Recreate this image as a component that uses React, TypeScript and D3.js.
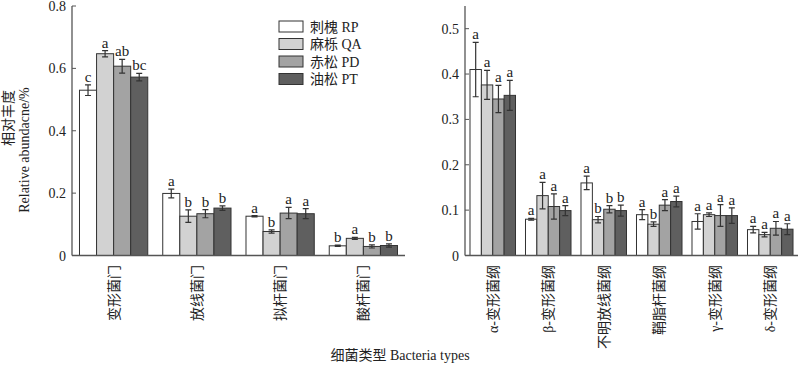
import * as d3 from 'd3'

const series = ['刺槐 RP', '麻栎 QA', '赤松 PD', '油松 PT']
const fills = ['#ffffff', '#d2d2d2', '#a3a3a3', '#5f5f5f']

const phylum = ['变形菌门', '放线菌门', '拟杆菌门', '酸杆菌门']
const phylumValues = [
  [0.53, 0.647, 0.607, 0.572],
  [0.199, 0.126, 0.134, 0.152],
  [0.126, 0.077, 0.136, 0.134],
  [0.031, 0.055, 0.029, 0.032],
]
const phylumErrors = [
  [0.017, 0.01, 0.022, 0.012],
  [0.014, 0.02, 0.013, 0.007],
  [0.002, 0.005, 0.018, 0.016],
  [0.002, 0.003, 0.005, 0.005],
]
const phylumLetters = [
  ['c', 'a', 'ab', 'bc'],
  ['a', 'b', 'b', 'b'],
  ['a', 'b', 'a', 'a'],
  ['b', 'a', 'b', 'b'],
]
const phylumTicks = [0, 0.2, 0.4, 0.6, 0.8]

const classes = ['α-变形菌纲', 'β-变形菌纲', '不明放线菌纲', '鞘脂杆菌纲', 'γ-变形菌纲', 'δ-变形菌纲']
const classValues = [
  [0.41, 0.376, 0.345, 0.353],
  [0.08, 0.132, 0.108, 0.099],
  [0.16, 0.079, 0.102, 0.099],
  [0.09, 0.069, 0.111, 0.119],
  [0.075, 0.09, 0.088, 0.088],
  [0.057, 0.046, 0.06, 0.058],
]
const classErrors = [
  [0.06, 0.032, 0.03, 0.033],
  [0.002, 0.029, 0.028, 0.011],
  [0.015, 0.007, 0.008, 0.012],
  [0.011, 0.005, 0.012, 0.012],
  [0.017, 0.004, 0.024, 0.017],
  [0.007, 0.005, 0.015, 0.012],
]
const classLetters = [
  ['a', 'a', 'a', 'a'],
  ['a', 'a', 'a', 'a'],
  ['a', 'b', 'b', 'b'],
  ['a', 'b', 'a', 'a'],
  ['a', 'a', 'a', 'a'],
  ['a', 'a', 'a', 'a'],
]
const classTicks = [0, 0.1, 0.2, 0.3, 0.4, 0.5]

const FONT = "'Liberation Serif', 'Noto Sans CJK SC', serif"
const INK = '#333'

type PanelProps = {
  x0: number
  x1: number
  yMax: number
  ticks: number[]
  cats: string[]
  values: number[][]
  errors: number[][]
  letters: string[][]
}

function Panel({x0, x1, yMax, ticks, cats, values, errors, letters}: PanelProps) {
  const top = 6
  const bottom = 255.5
  const y = d3.scaleLinear().domain([0, yMax]).range([bottom, top])
  const x = d3.scaleBand().domain(cats).range([x0, x1]).paddingInner(0.18).paddingOuter(0.09)
  const inner = d3.scaleBand().domain(series).range([0, x.bandwidth()])

  return (
    <g>
      {cats.map((c, i) => (
        <g key={c} transform={`translate(${x(c)},0)`}>
          {series.map((s, j) => {
            const v = values[i][j]
            const e = errors[i][j]
            const bx = inner(s) ?? 0
            const cx = bx + inner.bandwidth() / 2
            return (
              <g key={s}>
                <rect
                  x={bx}
                  y={y(v)}
                  width={inner.bandwidth()}
                  height={bottom - y(v)}
                  fill={fills[j]}
                  stroke={INK}
                  strokeWidth={1}
                />
                <path
                  d={`M${cx},${y(v - e)}V${y(v + e)}M${cx - 3},${y(v - e)}H${cx + 3}M${cx - 3},${y(v + e)}H${cx + 3}`}
                  stroke={INK}
                  strokeWidth={1.2}
                  fill="none"
                />
                <text x={cx} y={y(v + e) - 3} textAnchor="middle" fontSize={15} fill="#222">
                  {letters[i][j]}
                </text>
              </g>
            )
          })}
          <text
            transform={`translate(${x.bandwidth() / 2 + 5},265) rotate(-90)`}
            textAnchor="end"
            fontSize={14}
            fill="#222"
          >
            {c}
          </text>
        </g>
      ))}
      <line x1={x0} x2={x0} y1={top} y2={bottom} stroke="#555" strokeWidth={1.3} />
      <line x1={x0} x2={x1} y1={bottom} y2={bottom} stroke="#555" strokeWidth={1.3} />
      {ticks.map(t => (
        <g key={t}>
          <line x1={x0} x2={x0 + 4} y1={y(t)} y2={y(t)} stroke="#555" />
          <text x={x0 - 6} y={y(t) + 5} textAnchor="end" fontSize={14} fill="#222">
            {t === 0 ? '0' : t.toFixed(1)}
          </text>
        </g>
      ))}
    </g>
  )
}

export default function App() {
  const width = 800
  const height = 371
  return (
    <svg
      width={width}
      height={height}
      viewBox={`0 0 ${width} ${height}`}
      style={{position: 'absolute', left: 0, top: 0, background: '#fff'}}
      fontFamily={FONT}
    >
      <Panel
        x0={72}
        x1={405}
        yMax={0.8}
        ticks={phylumTicks}
        cats={phylum}
        values={phylumValues}
        errors={phylumErrors}
        letters={phylumLetters}
      />
      <Panel
        x0={465}
        x1={798}
        yMax={0.55}
        ticks={classTicks}
        cats={classes}
        values={classValues}
        errors={classErrors}
        letters={classLetters}
      />
      <g fontSize={14} fill="#222">
        <text transform="translate(13,118) rotate(-90)" textAnchor="middle">相对丰度</text>
        <text transform="translate(29,150) rotate(-90)" textAnchor="middle">Relative abundacne/%</text>
        <text x={400} y={360} textAnchor="middle">细菌类型 Bacteria types</text>
      </g>
      <g>
        {series.map((s, j) => (
          <g key={s} transform={`translate(279,${21 + j * 17.5})`}>
            <rect x={0} y={0} width={24} height={11} fill={fills[j]} stroke={INK} strokeWidth={1} />
            <text x={31} y={10.5} fontSize={14} fill="#222">{s}</text>
          </g>
        ))}
      </g>
    </svg>
  )
}
